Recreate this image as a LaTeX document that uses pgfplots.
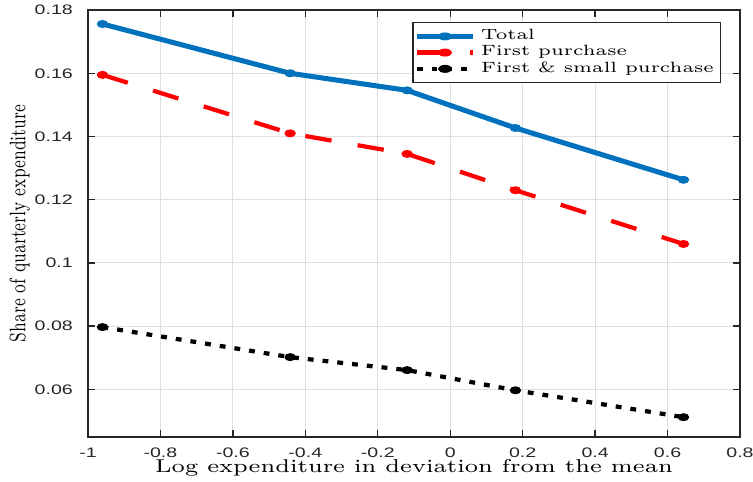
\documentclass[border=0pt]{standalone}
\usepackage{pgfplots}
\pgfplotsset{compat=1.18}
\usepackage{fontspec}
\newfontfamily\ticksf{Liberation Sans}
\definecolor{mblue}{RGB}{0,114,189}
\definecolor{axgray}{RGB}{38,38,38}
\begin{document}
\begin{tikzpicture}
\begin{axis}[
  name=ax,
  scale only axis,
  width=246pt, height=161pt,
  xmin=-1, xmax=0.8, ymin=0.045, ymax=0.18,
  xtick={-1,-0.8,...,0.8},
  ytick={0.06,0.08,0.1,0.12,0.14,0.16,0.18},
  yticklabels={0.06,0.08,0.1,0.12,0.14,0.16,0.18},
  xticklabels={-1,-0.8,-0.6,-0.4,-0.2,0,0.2,0.4,0.6,0.8},
  ticklabel style={font=\ticksf\fontsize{5.2}{6}\selectfont, text=axgray, xscale=1.42},
  xticklabel style={yshift=-0.6pt},
  yticklabel style={xshift=-0.5pt},
  /pgf/number format/assume math mode=true,
  tick align=inside,
  major tick length=2.6pt,
  tick style={axgray, line width=0.5pt},
  axis line style={axgray, line width=0.6pt},
  grid=major,
  grid style={gray!25, line width=0.4pt},
  xlabel={\scalebox{1.26}[1]{\fontsize{7}{8}\selectfont Log expenditure in deviation from the mean}},
  ylabel={\scalebox{0.9}[1.3]{\fontsize{6.5}{8}\selectfont Share of quarterly expenditure}},
  xlabel style={at={([yshift=-13.4pt]axis description cs:0.5,0)}, anchor=base, inner sep=0pt},
  ylabel style={at={([xshift=-25.7pt]axis description cs:0,0.5)}, anchor=center, inner sep=0pt},
  legend style={at={(0.971,0.972)}, anchor=north east, font=\fontsize{5.6}{6.6}\selectfont,
    draw=axgray, line width=0.5pt, inner sep=0.5pt, row sep=-3.3pt, legend cell align=left},
  legend image post style={xscale=1.25},
]
\addplot[mblue, line width=1.9pt, mark=*, mark size=1.3pt, mark options={xscale=1.5, line width=0.4pt}] coordinates {
(-0.96,0.1756) (-0.442,0.1600) (-0.119,0.1546) (0.180,0.1427) (0.644,0.1263)};
\addlegendentry{\scalebox{1.28}[1]{Total}}
\addplot[red, line width=1.6pt, dash pattern=on 10pt off 10pt, mark=*, mark size=1.3pt, mark options={solid, xscale=1.5, line width=0.4pt}] coordinates {
(-0.96,0.1595) (-0.442,0.1410) (-0.119,0.1345) (0.180,0.1230) (0.644,0.1060)};
\addlegendentry{\scalebox{1.28}[1]{First purchase}}
\addplot[black, line width=1.6pt, dash pattern=on 2.2pt off 3.4pt, mark=*, mark size=1.3pt, mark options={solid, xscale=1.5, line width=0.4pt}] coordinates {
(-0.96,0.0797) (-0.442,0.0702) (-0.119,0.0661) (0.180,0.0597) (0.644,0.0512)};
\addlegendentry{\scalebox{1.28}[1]{First \& small purchase}}
\end{axis}
\pgfresetboundingbox
\path[use as bounding box] ([xshift=-33.2pt,yshift=-17pt]ax.south west) rectangle ([xshift=4.9pt,yshift=3.8pt]ax.north east);
\end{tikzpicture}
\end{document}
